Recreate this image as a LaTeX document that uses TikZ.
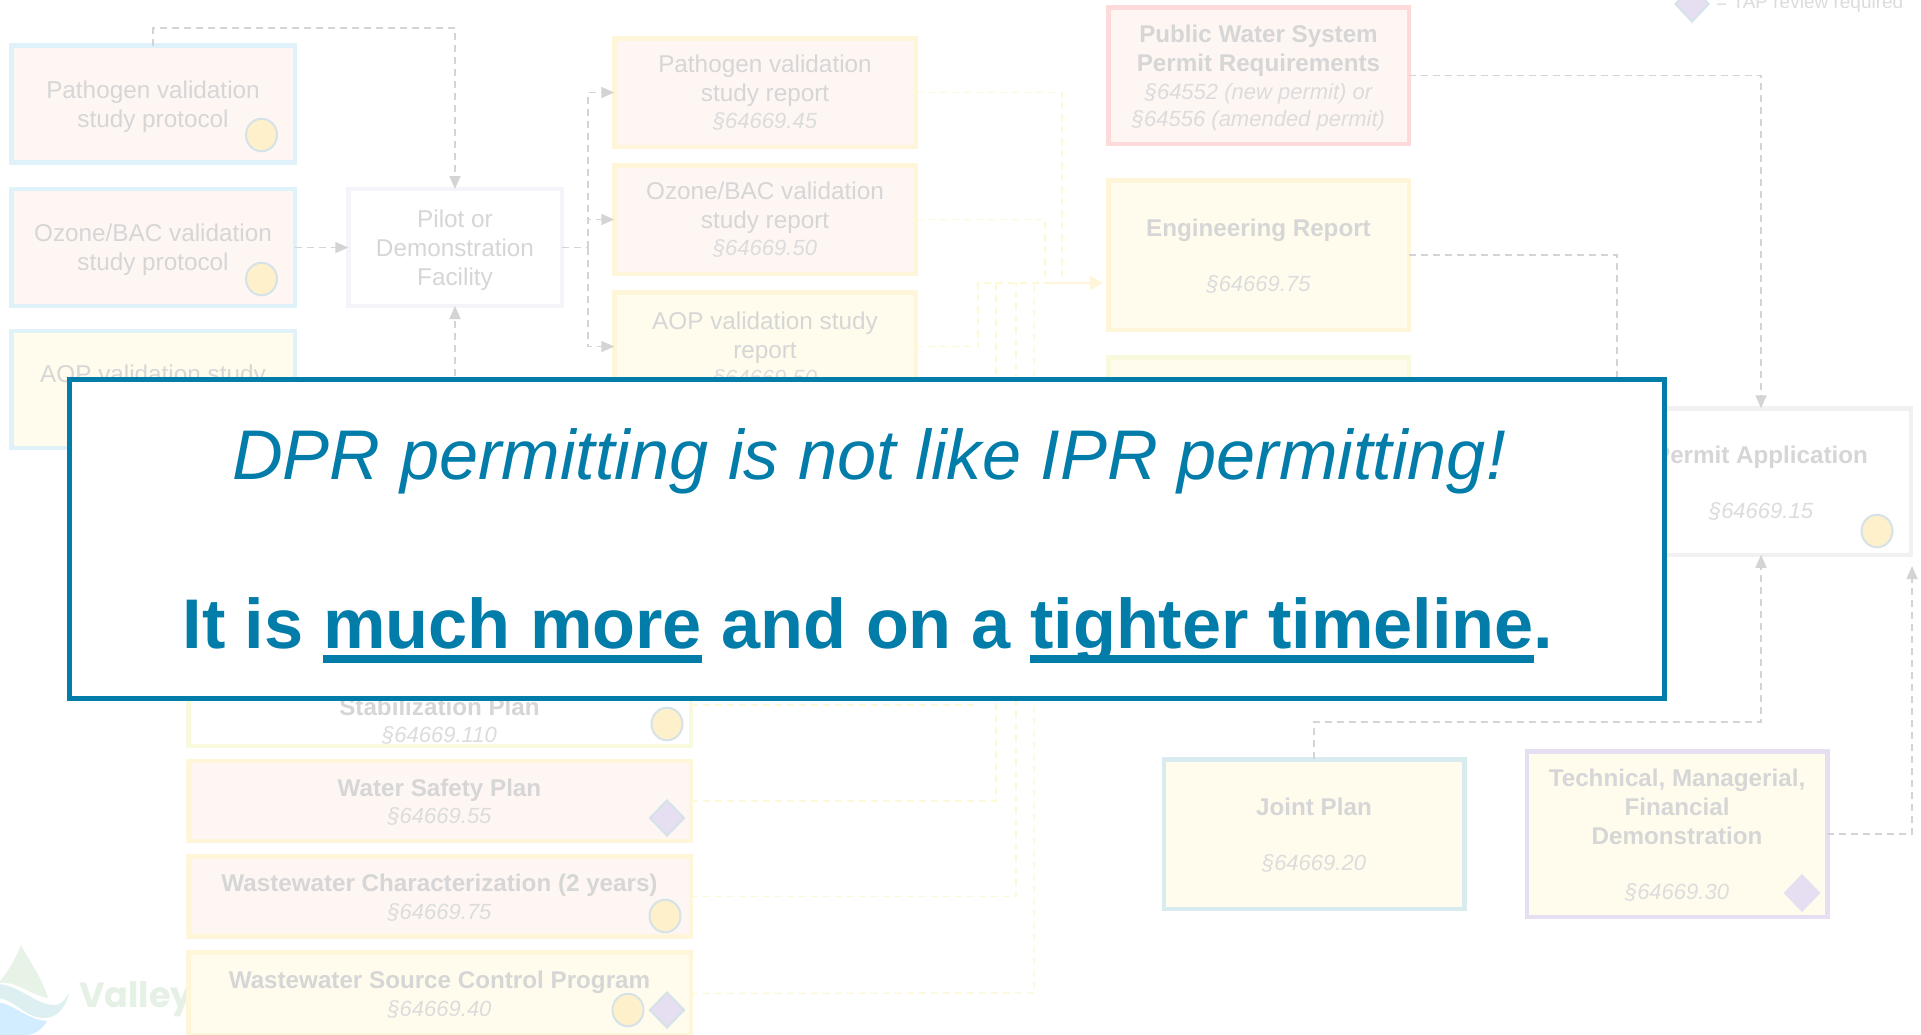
\documentclass[tikz,border=0pt]{standalone}
\usepackage{fontspec}
\setmainfont{Liberation Sans}
\newfontfamily\logofont{Poppins}
\usetikzlibrary{arrows.meta,shapes.geometric}
\definecolor{txtgrey}{HTML}{D6D6D6}
\definecolor{secgrey}{HTML}{DCDCDC}
\definecolor{linegrey}{HTML}{D4D4D4}
\definecolor{lineyel}{HTML}{FDF8D6}
\definecolor{bblue}{HTML}{DFF2FA}
\definecolor{byellow}{HTML}{FFF5D8}
\definecolor{bgreen}{HTML}{F9FADD}
\definecolor{bred}{HTML}{FFDADA}
\definecolor{bpilot}{HTML}{F4F4FB}
\definecolor{bteal}{HTML}{D8ECF0}
\definecolor{bpurple}{HTML}{E6DFF1}
\definecolor{bperm}{HTML}{F1F1F1}
\definecolor{fpink}{HTML}{FEF6F3}
\definecolor{fcream}{HTML}{FFFCEE}
\definecolor{fcirc}{HTML}{FDF0CB}
\definecolor{bmark}{HTML}{D5E3E8}
\definecolor{accent}{HTML}{027CA8}
\newcommand\secline[1]{{\fontsize{22}{25}\mdseries\itshape\color{secgrey}\selectfont #1}}
\newcommand\myul[1]{\setbox0\hbox{#1}\rlap{\rule[-15pt]{\wd0}{8pt}}\box0\relax}
\newcommand\toppad{\rule{0pt}{23pt}}
\newcommand\toppadb{\rule{0pt}{20pt}}
\tikzset{
  x=1pt,y=-1pt,
  boxbase/.style={rectangle,draw,line width=4.5pt,inner sep=0pt,outer sep=0pt,align=center,text=txtgrey,font=\fontsize{24.3}{29}\selectfont},
  boldbox/.style={boxbase,font=\fontsize{24.2}{29}\bfseries\selectfont},
  colA/.style={minimum width=283.5pt,minimum height=117pt},
  colP/.style={minimum width=213.5pt,minimum height=117pt},
  colR/.style={minimum width=301.5pt,minimum height=108.5pt},
  colE/.style={minimum width=300.5pt},
  colL/.style={minimum width=502.5pt,minimum height=80pt},
  pinkblue/.style={boxbase,draw=bblue,fill=fpink},
  creamblue/.style={boxbase,draw=bblue,fill=fcream},
  pinkyel/.style={boxbase,draw=byellow,fill=fpink},
  creamyel/.style={boxbase,draw=byellow,fill=fcream},
  circ/.style={circle,draw=bmark,fill=fcirc,line width=2pt,minimum width=31pt,minimum height=31pt,inner sep=0pt,yscale=1.05},
  diam/.style={diamond,aspect=1,draw=bmark,fill=bpurple,line width=2pt,minimum width=35pt,minimum height=36pt,inner sep=0pt},
  greyconn/.style={draw=linegrey,line width=1.6pt,dash pattern=on 7pt off 5pt},
  greyarrow/.style={greyconn,-{Triangle[length=13pt,width=11pt,fill=linegrey]}},
  yelconn/.style={draw=lineyel,line width=1.4pt,dash pattern=on 7pt off 5pt},
}
\begin{document}
\begin{tikzpicture}
\useasboundingbox (0,0) rectangle (1921,1034);
\clip (0,0) rectangle (1921,1034);
\fill[white] (0,0) rectangle (1921,1034);
% logo
\fill[green!30!gray!14!white] (21,945) .. controls (14,962) and (6,975) .. (-2,983) .. controls (15,980) and (30,995) .. (48,998) .. controls (42,978) and (30,962) .. (21,945) -- cycle;
\fill[bteal!85!white] (-2,984) .. controls (20,985) and (35,1005) .. (55,1005) .. controls (62,1005) and (66,998) .. (69,993) .. controls (65,1010) and (55,1019) .. (42,1018) .. controls (25,1017) and (15,1000) .. (-2,998) -- cycle;
\fill[blue!40!cyan!18!white] (-2,1002) .. controls (15,1005) and (28,1020) .. (47,1021) .. controls (42,1030) and (35,1034) .. (25,1036) -- (-2,1036) -- cycle;
\node[anchor=base west,inner sep=0pt,text=green!30!gray!16!white,font=\logofont\bfseries\fontsize{35}{40}\selectfont] (valley) at (79,1007) {Valley};
% left column
\node[pinkblue,colA] (pp) at (153,104) {\toppad Pathogen validation\\study protocol};
\node[pinkblue,colA] (op) at (153,247.5) {\toppad Ozone/BAC validation\\study protocol};
\node[creamblue,colA] (ap) at (153,389.5) {};
\node[anchor=center,inner sep=0pt,text=txtgrey,font=\fontsize{24.3}{29}\selectfont] (aplabel) at (153,376) {AOP validation study};
\node[boxbase,colP,draw=bpilot,fill=white] (pilot) at (455,247.5) {\toppad Pilot or\\Demonstration\\Facility};
% reports
\node[pinkyel,colR] (pr) at (765,92.5) {Pathogen validation\\study report\\[-2pt]\secline{§64669.45}};
\node[pinkyel,colR] (or) at (765,219.5) {Ozone/BAC validation\\study report\\[-2pt]\secline{§64669.50}};
\node[creamyel,colR] (ar) at (765,346.5) {\toppad AOP validation study\\report\\[-2pt]\secline{§64669.50}};
% permits
\node[boldbox,colE,draw=bred,fill=fpink,minimum height=136.5pt] (pws) at (1258.5,75.5) {\toppad Public Water System\\Permit Requirements\\[-1pt]\secline{§64552 (new permit) or}\\[-2pt]\secline{§64556 (amended permit)}};
\node[boldbox,colE,draw=byellow,fill=fcream,minimum height=149.5pt] (eng) at (1258.5,255) {\toppadb Engineering Report\\[26pt]\secline{§64669.75}};
\node[boxbase,colE,draw=bgreen,fill=fcream,minimum height=125pt] (third) at (1258.5,420) {};
\node[boldbox,minimum width=299.5pt,minimum height=146.5pt,draw=bperm,fill=white] (permit) at (1761,481.5) {\toppadb Permit Application\\[26pt]\secline{§64669.15}};
% lower column
\node[boxbase,colL,minimum height=143.5pt,draw=bgreen,fill=white] (stab) at (439.5,674) {};
\node[inner sep=0pt,text=txtgrey,font=\fontsize{24.2}{29}\bfseries\selectfont] (stablabel) at (439.5,707) {Stabilization Plan};
\node[inner sep=0pt] (stabsec) at (439.5,735) {\secline{§64669.110}};
\node[boldbox,pinkyel,colL,font=\fontsize{24.2}{29}\bfseries\selectfont] (wsp) at (439.5,801) {\toppadb Water Safety Plan\\[-2pt]\secline{§64669.55}};
\node[boldbox,pinkyel,colL,font=\fontsize{24.2}{29}\bfseries\selectfont] (wc) at (439.5,896.5) {\toppadb Wastewater Characterization (2 years)\\[-1pt]\secline{§64669.75}};
\node[boldbox,creamyel,colL,minimum height=82.5pt,font=\fontsize{24.2}{29}\bfseries\selectfont] (sc) at (439.5,993.5) {\toppadb Wastewater Source Control Program\\[-1pt]\secline{§64669.40}};
% lower right
\node[boldbox,colE,draw=bteal,fill=fcream,minimum height=149.5pt] (joint) at (1314,834) {\toppadb Joint Plan\\[26pt]\secline{§64669.20}};
\node[boldbox,colE,draw=bpurple,fill=fcream,minimum height=165.5pt] (tmf) at (1677,834) {\toppadb Technical, Managerial,\\Financial\\Demonstration\\[26pt]\secline{§64669.30}};
% markers
\node[circ] (c1) at (261.5,135) {};
\node[circ] (c2) at (261.5,279) {};
\node[circ] (c3) at (667,724) {};
\node[diam] (d1) at (667,818) {};
\node[circ] (c4) at (665,916) {};
\node[circ] (c5) at (628,1010) {};
\node[diam] (d2) at (667,1010) {};
\node[circ] (c6) at (1877,531) {};
\node[diam,draw=bpurple] (d3) at (1802,893) {};
% legend
\node[diam,minimum width=34pt,minimum height=36pt] (legd) at (1692,4) {};
\node[anchor=base west,inner sep=0pt,text=secgrey,font=\fontsize{19}{22}\selectfont] (legt) at (1716,8) {= TAP review required};
% grey connectors
\coordinate (pptop) at (153,28);
\coordinate (piltop) at (455,28);
\coordinate (pilbot) at (455,400);
\coordinate (split) at (588,247.5);
\draw[greyarrow] (pp.north) -- (pptop) -- (piltop) -- (pilot.north);
\draw[greyarrow] (op.east) -- (pilot.west);
\draw[greyarrow] (pilbot) -- (pilot.south);
\draw[greyconn] (pilot.east) -- (split);
\draw[greyarrow] (split) |- (pr.west);
\draw[greyarrow] (split) |- (or.west);
\draw[greyarrow] (split) |- (ar.west);
\coordinate (c1761a) at (1761,75.5);
\coordinate (c1617a) at (1617,255);
\coordinate (c1617b) at (1617,400);
\draw[greyarrow] (pws.east) -- (c1761a) -- (permit.north);
\draw[greyconn] (eng.east) -- (c1617a) -- (c1617b);
\coordinate (jup) at (1314,722);
\coordinate (jright) at (1761,722);
\draw[greyarrow] (joint.north) -- (jup) -- (jright) -- (permit.south);
\coordinate (tright) at (1912,834);
\coordinate (ttop) at (1912,566);
\draw[greyarrow] (tmf.east) -- (tright) -- (ttop);
% yellow connectors
\coordinate (y1) at (1062,92.5);
\coordinate (y1b) at (1062,283);
\coordinate (y2) at (1045,219.5);
\coordinate (y2b) at (1045,283);
\coordinate (y3) at (978,346.5);
\coordinate (y3b) at (978,283);
\coordinate (engin) at (1103,283);
\draw[yelconn] (pr.east) -- (y1) -- (y1b);
\draw[yelconn] (or.east) -- (y2) -- (y2b);
\draw[yelconn] (ar.east) -- (y3) -- (y3b) -- (y2b);
\draw[draw=byellow,line width=1.6pt,-{Triangle[length=13pt,width=14pt,fill=byellow]}] (y2b) -- (engin);
\coordinate (s1) at (973,705);
\coordinate (s1b) at (973,600);
\draw[yelconn] (stab.east |- s1) -- (s1) -- (s1b);
\coordinate (w1) at (996,801);
\coordinate (w1b) at (996,283);
\draw[yelconn] (wsp.east) -- (w1) -- (w1b);
\coordinate (w2) at (1016,896.5);
\coordinate (w2b) at (1016,283);
\draw[yelconn] (wc.east) -- (w2) -- (w2b);
\coordinate (w3) at (1034,993);
\coordinate (w3b) at (1034,283);
\draw[yelconn] (sc.east) -- (w3) -- (w3b);
% overlay
\node[rectangle,draw=accent,fill=white,line width=5pt,inner sep=0pt,outer sep=0pt,minimum width=1595pt,minimum height=319pt] (banner) at (867,539) {};
\node[anchor=base,inner sep=0pt,text=accent,font=\fontsize{70.3}{80}\itshape\selectfont] (line1) at (869,479) {DPR permitting is not like IPR permitting!};
\node[anchor=base,inner sep=0pt,text=accent,font=\fontsize{70.3}{80}\bfseries\selectfont] (line2) at (868,648) {It is \myul{much more} and on a \myul{tighter timeline}.};
\end{tikzpicture}
\end{document}
